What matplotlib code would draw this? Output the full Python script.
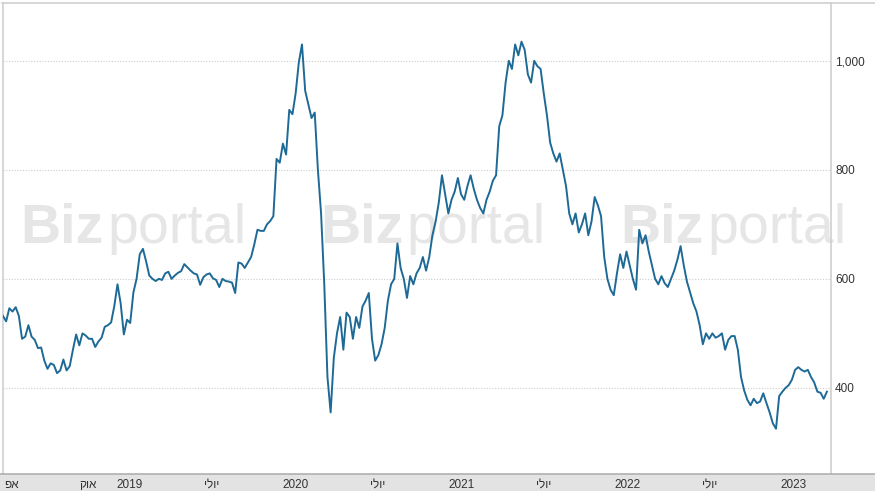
import matplotlib.pyplot as plt
from matplotlib.lines import Line2D
from matplotlib.patches import Rectangle
import pandas as pd

# weekly closing values
start_date = "2018-03-29"
prices = [
    532, 522, 546, 540, 548, 532, 490, 494, 515, 494,
    488, 473, 474, 450, 435, 445, 442, 427, 432, 452,
    432, 440, 470, 498, 478, 500, 496, 490, 490, 475,
    485, 492, 512, 515, 520, 550, 590, 555, 498, 525,
    519, 575, 600, 645, 655, 632, 606, 600, 596, 600,
    598, 610, 613, 600, 606, 611, 614, 627, 621, 615,
    610, 608, 589, 603, 608, 610, 601, 598, 585, 600,
    596, 595, 593, 574, 630, 628, 620, 630, 640, 663,
    690, 688, 688, 700, 706, 715, 820, 813, 848, 828,
    910, 902, 940, 997, 1030, 945, 920, 895, 905, 800,
    720, 590, 420, 355, 455, 500, 530, 470, 538, 530,
    490, 530, 510, 549, 560, 574, 490, 450, 460, 480,
    510, 560, 590, 600, 665, 620, 600, 565, 605, 590,
    610, 620, 640, 615, 640, 680, 705, 740, 790, 755,
    720, 745, 760, 785, 755, 745, 770, 790, 765, 745,
    730, 720, 745, 760, 780, 790, 880, 900, 960, 1000,
    985, 1030, 1010, 1035, 1020, 975, 960, 1000, 990, 985,
    940, 900, 850, 830, 815, 830, 800, 770, 720, 700,
    720, 685, 700, 720, 680, 705, 750, 735, 715, 640,
    600, 580, 570, 610, 645, 620, 650, 625, 600, 580,
    690, 665, 680, 650, 625, 600, 590, 605, 592, 585,
    600, 615, 635, 660, 625, 595, 575, 555, 540, 515,
    480, 500, 490, 500, 492, 495, 500, 470, 488, 495,
    495, 470, 420, 395, 378, 368, 380, 372, 375, 390,
    372, 355, 335, 325, 385, 393, 400, 405, 415, 433,
    438, 433, 430, 433, 420, 410, 393, 391, 380, 393,
]

tick_dates = ["2018-04-01", "2018-10-01", "2019-01-01", "2019-07-01", "2020-01-01",
              "2020-07-01", "2021-01-01", "2021-07-01", "2022-01-01", "2022-07-01",
              "2023-01-01"]
tick_labels = ["אפ", "אוק", "2019", "יולי", "2020", "יולי", "2021", "יולי",
               "2022", "יולי", "2023"]
y_ticks = [400, 600, 800, 1000]

W, H = 875, 491
LINE = "#1e6a96"
plt.rcParams["font.family"] = ["Liberation Sans", "DejaVu Sans"]


def heb(s):
    # matplotlib has no bidi support: flip hebrew words so they read right-to-left
    if any("\u0590" <= c <= "\u05ff" for c in s):
        return s[::-1]
    return s


dates = pd.date_range(start_date, periods=len(prices), freq="7D")

fig = plt.figure(figsize=(W / 100, H / 100), dpi=100)

# watermark behind the plot
for split in (104, 403, 704):
    fig.text(split / W, 1 - 243 / H, "Biz", ha="right", va="baseline",
             fontsize=40, fontweight="bold", color="#e6e6e6", zorder=-2)
    fig.text((split + 3) / W, 1 - 243 / H, "portal", ha="left", va="baseline",
             fontsize=40, color="#e6e6e6", zorder=-2)

ax = fig.add_axes([2.5 / W, 17 / H, (831 - 2.5) / W, (474 - 3) / H])
ax.set_facecolor("none")
ax.plot(dates, prices, color=LINE, lw=1.4, zorder=3)

ax.set_xlim(pd.Timestamp("2018-03-28"), pd.Timestamp("2023-03-25"))
ax.set_ylim(242, 1106)

ax.set_yticks(y_ticks)
ax.set_yticklabels([f"{v:,}" for v in y_ticks])
ax.yaxis.tick_right()
ax.tick_params(axis="y", length=0, pad=3, labelsize=8.5, labelcolor="#333333")
ax.grid(axis="y", color="#cccccc", lw=0.8, linestyle=(0, (1, 1.5)))

ax.set_xticks(pd.to_datetime(tick_dates))
ax.set_xticklabels([heb(t) for t in tick_labels])
ax.tick_params(axis="x", length=0, pad=3.5, labelsize=8.5, labelcolor="#333333")
# first month label sits at the left edge, keep it inside the picture
ax.get_xticklabels()[0].set_horizontalalignment("left")

for side in ("top", "left", "right"):
    ax.spines[side].set_color("#cfcfcf")
    ax.spines[side].set_linewidth(1.2)
ax.spines["bottom"].set_visible(False)

# grey date strip along the bottom, and top frame line over the value labels
fig.patches.append(Rectangle((0, 0), 1, 17 / H, transform=fig.transFigure,
                             facecolor="#e3e3e3", edgecolor="none", zorder=-1))
fig.lines.append(Line2D([0, 1], [17 / H, 17 / H], transform=fig.transFigure,
                        color="#b0b0b0", lw=1.2))
fig.lines.append(Line2D([831 / W, 1], [1 - 3 / H, 1 - 3 / H], transform=fig.transFigure,
                        color="#cfcfcf", lw=1.2))

fig.savefig("out.png", dpi=100)
